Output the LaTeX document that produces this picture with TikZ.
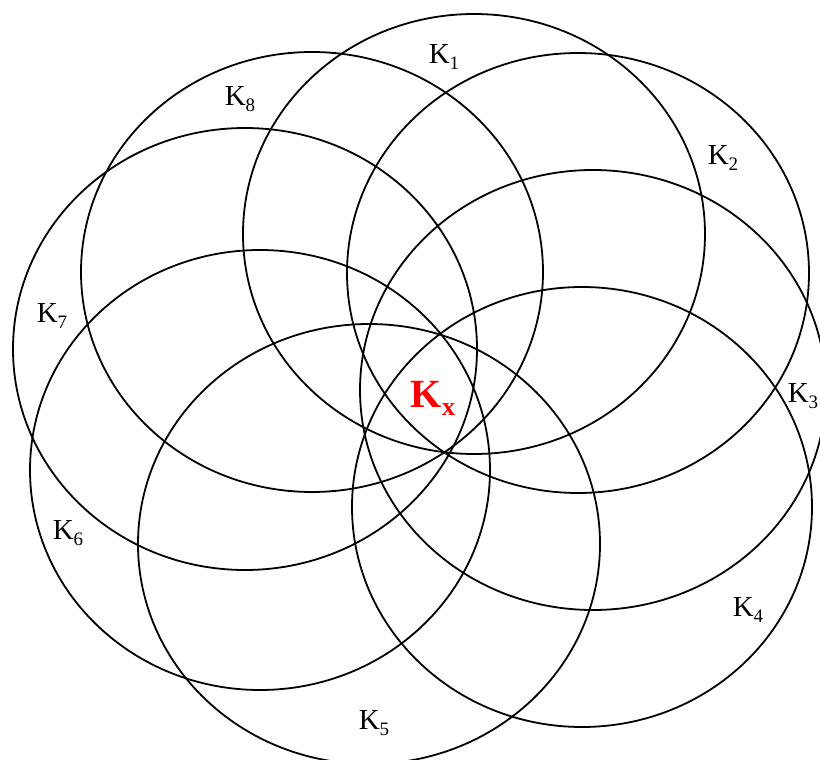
\documentclass[tikz,border=0pt]{standalone}
\usepackage{fontspec}
\setmainfont{Liberation Serif}
\newcommand{\klab}[1]{K\raisebox{-6pt}{\fontsize{19}{19}\selectfont #1}}
\begin{document}
\begin{tikzpicture}[x=1pt,y=-1pt,
  ring/.style={draw=black,line width=1.8pt},
  lab/.style={font=\fontsize{29}{29}\selectfont,inner sep=0pt},
  klabx/.style={font=\fontsize{40}{40}\selectfont\bfseries,text=red,inner sep=0pt}]
\useasboundingbox[fill=white] (0,0) rectangle (820,760);
% ellipses
\draw[ring] (474,234) ellipse [x radius=231pt, y radius=220pt];
\draw[ring] (578,273) ellipse [x radius=231pt, y radius=220pt];
\draw[ring] (593,390) ellipse [x radius=233pt, y radius=220pt];
\draw[ring] (582,507) ellipse [x radius=230pt, y radius=220pt];
\draw[ring] (369,544) ellipse [x radius=231pt, y radius=220pt];
\draw[ring] (260,470) ellipse [x radius=230pt, y radius=220pt];
\draw[ring] (245,349) ellipse [x radius=232pt, y radius=221pt];
\draw[ring] (312,272) ellipse [x radius=231pt, y radius=220pt];
% labels
\node[lab] (k1) at (444,57) {\klab{1}};
\node[lab] (k2) at (723,158) {\klab{2}};
\node[lab] (k3) at (803,396) {\klab{3}};
\node[lab] (k4) at (748,610) {\klab{4}};
\node[lab] (k5) at (374,723) {\klab{5}};
\node[lab] (k6) at (68,533) {\klab{6}};
\node[lab] (k7) at (52,316) {\klab{7}};
\node[lab] (k8) at (240,99) {\klab{8}};
\node[klabx] (kx) at (433,398) {K\raisebox{-8pt}{\fontsize{26}{26}\selectfont\bfseries x}};
\end{tikzpicture}
\end{document}
